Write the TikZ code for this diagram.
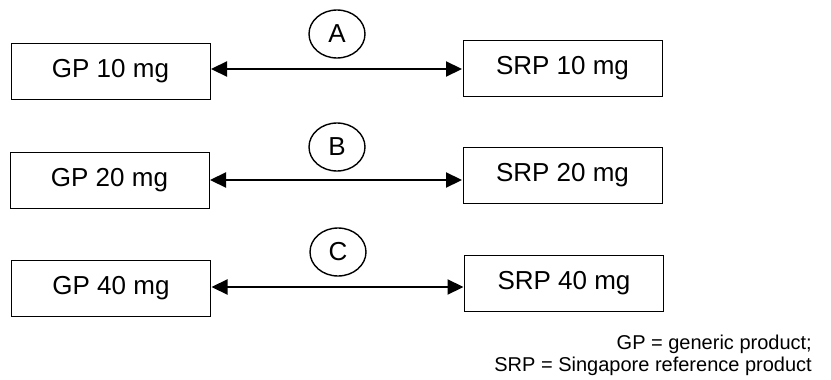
\documentclass[tikz,border=0pt]{standalone}
\usepackage{fontspec}
\setmainfont{Liberation Sans}
\usetikzlibrary{arrows.meta,shapes.geometric}
\tikzset{
  prodbox/.style={draw=black, line width=1pt, minimum width=199pt, minimum height=56pt, inner sep=0pt, font=\fontsize{26}{30}\selectfont},
  tag/.style={draw=black, line width=1.4pt, ellipse, minimum width=56pt, minimum height=48pt, inner sep=0pt, font=\fontsize{26}{30}\selectfont},
  link/.style={line width=2.2pt, {Triangle[length=16pt,width=15pt]}-{Triangle[length=16pt,width=15pt]}, shorten <=0.5pt, shorten >=0.5pt}
}
\begin{document}
\begin{tikzpicture}[x=1pt, y=-1pt]
\useasboundingbox (0,0) rectangle (831,380);
% row A
\node[prodbox] (gpA) at (110.5,71) {GP 10 mg};
\node[prodbox] (srpA) at (562.5,68) {SRP 10 mg};
\node[tag] (tA) at (337,34) {A};
\draw[link] (gpA.east |- 0,69) -- (srpA.west |- 0,69);
% row B
\node[prodbox] (gpB) at (109.5,180.5) {GP 20 mg};
\node[prodbox] (srpB) at (562.5,175.5) {SRP 20 mg};
\node[tag] (tB) at (337,147) {B};
\draw[link] (gpB.east |- 0,180) -- (srpB.west |- 0,180);
% row C
\node[prodbox] (gpC) at (111,288) {GP 40 mg};
\node[prodbox] (srpC) at (564,283) {SRP 40 mg};
\node[tag] (tC) at (338,252) {C};
\draw[link] (gpC.east |- 0,287) -- (srpC.west |- 0,287);
% footnote
\node[anchor=east, align=right, inner sep=0pt, font=\fontsize{20}{22}\selectfont] (note) at (812,355)
  {GP = generic product;\\SRP = Singapore reference product};
\end{tikzpicture}
\end{document}
